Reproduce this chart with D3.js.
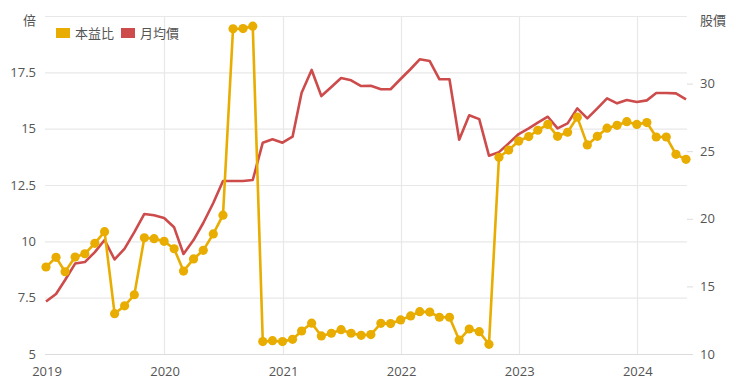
<!DOCTYPE html>
<html><head><meta charset="utf-8">
<script src="https://cdn.jsdelivr.net/npm/d3@7/dist/d3.min.js"></script>
<style>
html,body{margin:0;padding:0;background:#fff;}
svg text{font-family:"Open Sans","Noto Sans CJK TC",sans-serif;}
</style></head>
<body><svg id="c" width="740" height="392"></svg>
<script>
const months = ["2019-01","2019-02","2019-03","2019-04","2019-05","2019-06","2019-07","2019-08","2019-09","2019-10","2019-11","2019-12",
"2020-01","2020-02","2020-03","2020-04","2020-05","2020-06","2020-07","2020-08","2020-09","2020-10","2020-11","2020-12",
"2021-01","2021-02","2021-03","2021-04","2021-05","2021-06","2021-07","2021-08","2021-09","2021-10","2021-11","2021-12",
"2022-01","2022-02","2022-03","2022-04","2022-05","2022-06","2022-07","2022-08","2022-09","2022-10","2022-11","2022-12",
"2023-01","2023-02","2023-03","2023-04","2023-05","2023-06","2023-07","2023-08","2023-09","2023-10","2023-11","2023-12",
"2024-01","2024-02","2024-03","2024-04","2024-05","2024-06"];
const peRatio = [8.86,9.29,8.65,9.30,9.45,9.91,10.43,6.79,7.14,7.63,10.16,10.12,
10.00,9.67,8.68,9.22,9.60,10.33,11.16,19.43,19.44,19.55,5.55,5.59,
5.55,5.65,6.02,6.37,5.80,5.92,6.08,5.92,5.83,5.86,6.36,6.35,
6.51,6.69,6.88,6.86,6.63,6.63,5.62,6.11,5.99,5.43,13.73,14.05,
14.45,14.65,14.93,15.19,14.66,14.84,15.51,14.28,14.66,15.02,15.15,15.31,
15.19,15.27,14.63,14.63,13.86,13.64];
const avgPrice = [13.88,14.44,15.47,16.69,16.80,17.54,18.43,16.99,17.80,19.02,20.36,20.26,
20.06,19.37,17.40,18.43,19.69,21.17,22.80,22.80,22.80,22.87,25.63,25.88,
25.63,26.07,29.33,31.01,29.08,29.75,30.41,30.24,29.82,29.84,29.58,29.58,
30.34,31.08,31.80,31.67,30.32,30.32,25.85,27.66,27.37,24.67,24.93,25.58,
26.27,26.69,27.11,27.55,26.69,27.06,28.17,27.43,28.17,28.91,28.54,28.79,
28.64,28.76,29.30,29.30,29.28,28.84];
const leftTicks = [5,7.5,10,12.5,15,17.5];
const leftTickLabels = ["5","7.5","10","12.5","15","17.5"];
const rightTicks = [10,15,20,25,30];
const yearTicks = ["2019","2020","2021","2022","2023","2024"];
const seriesNames = ["本益比","月均價"];
const leftUnit = "倍", rightUnit = "股價";
const colors = ["#e8ad00","#cd4b4b"];

const parse = d3.timeParse("%Y-%m");
const dates = months.map(parse);
const svg = d3.select("#c");
const W=740, H=392;
const x0=46, x1=686, yTop=16, yBot=354, gridR=687;

const x = d3.scaleTime().domain([dates[0], dates[dates.length-1]]).range([x0,x1]);
const yL = d3.scaleLinear().domain([5,20]).range([yBot,yTop]);
const yR = d3.scaleLinear().domain([10,35]).range([yBot,yTop]);

const grid = svg.append("g");
// horizontal gridlines
grid.selectAll("line.h").data(leftTicks.concat([20])).enter().append("line")
  .attr("x1",45).attr("x2",gridR).attr("y1",d=>yL(d)+0.5).attr("y2",d=>yL(d)+0.5)
  .attr("stroke","#e8e8e8").attr("stroke-width",1.2);
// vertical gridlines at years (except first)
const yearDates = yearTicks.map(y=>d3.timeParse("%Y")(y));
grid.selectAll("line.v").data(yearDates.slice(1)).enter().append("line")
  .attr("x1",d=>Math.round(x(d))+0.5).attr("x2",d=>Math.round(x(d))+0.5)
  .attr("y1",yTop).attr("y2",yBot)
  .attr("stroke","#e8e8e8").attr("stroke-width",1.2);
// bottom axis line
grid.append("line").attr("x1",45).attr("x2",692).attr("y1",yBot+0.5).attr("y2",yBot+0.5)
  .attr("stroke","#dcdcdc").attr("stroke-width",1.2);

// left axis labels
const lab = svg.append("g").attr("fill","#555").attr("font-size",13);
lab.selectAll("text.l").data(leftTicks).enter().append("text")
  .attr("x",36).attr("y",d=>yL(d)).attr("dy","0.35em").attr("text-anchor","end")
  .text((d,i)=>leftTickLabels[i]);
lab.append("text").attr("x",36).attr("y",yL(20)+4).attr("dy","0.35em").attr("text-anchor","end").text(leftUnit);
// right axis
svg.append("g").selectAll("line").data(rightTicks).enter().append("line")
  .attr("x1",687).attr("x2",693).attr("y1",d=>yR(d)+0.5).attr("y2",d=>yR(d)+0.5)
  .attr("stroke","#dcdcdc");
lab.selectAll("text.r").data(rightTicks).enter().append("text")
  .attr("x",700).attr("y",d=>yR(d)).attr("dy","0.35em").attr("text-anchor","start")
  .text(d=>d);
lab.append("text").attr("x",700).attr("y",yR(35)+4).attr("dy","0.35em").text(rightUnit);
// x labels
lab.selectAll("text.x").data(yearDates).enter().append("text")
  .attr("x",d=>x(d)+1).attr("y",371).attr("dy","0.35em").attr("text-anchor","middle")
  .text((d,i)=>yearTicks[i]);

// price line
const priceLine = d3.line().x((d,i)=>x(dates[i])).y(d=>yR(d));
svg.append("path").datum(avgPrice).attr("d",priceLine).attr("fill","none")
  .attr("stroke",colors[1]).attr("stroke-width",2.6).attr("stroke-linejoin","round");
// pe line
const peLine = d3.line().x((d,i)=>x(dates[i])).y(d=>yL(d));
svg.append("path").datum(peRatio).attr("d",peLine).attr("fill","none")
  .attr("stroke",colors[0]).attr("stroke-width",2.6).attr("stroke-linejoin","round");
svg.append("g").selectAll("circle").data(peRatio).enter().append("circle")
  .attr("cx",(d,i)=>x(dates[i])).attr("cy",d=>yL(d)).attr("r",4.6).attr("fill",colors[0]);

// legend
const lg = svg.append("g");
const lx = [56,121];
seriesNames.forEach((n,i)=>{
  lg.append("rect").attr("x",lx[i]).attr("y",28).attr("width",14).attr("height",10).attr("fill",colors[i]);
  lg.append("text").attr("x",lx[i]+19).attr("y",33).attr("dy","0.35em").attr("font-size",13).attr("fill","#555").text(n);
});
</script></body></html>
